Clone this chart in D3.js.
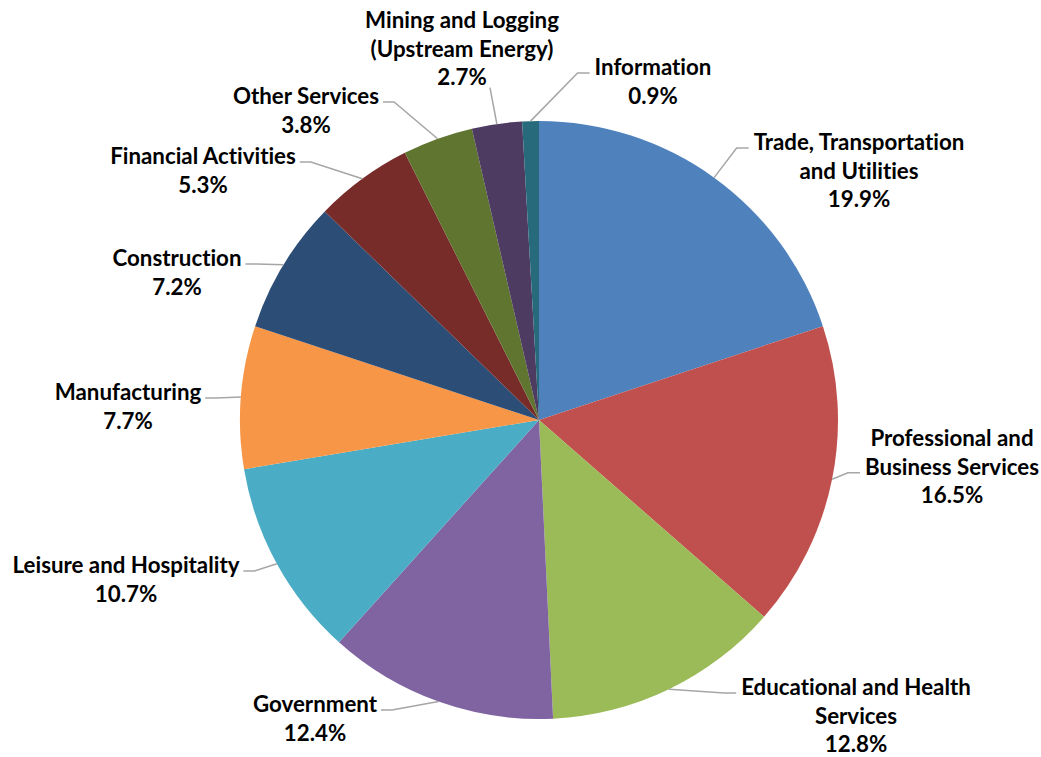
<!DOCTYPE html>
<html>
<head>
<meta charset="utf-8">
<script src="https://cdn.jsdelivr.net/npm/d3@7"></script>
<style>
  body { margin: 0; background: #fff; }
  svg text { font-family: Lato, "Open Sans", sans-serif; font-weight: bold; fill: #000; font-variant-ligatures: none; }
</style>
</head>
<body>
<div id="chart"></div>
<script>
const categories = [
  "Trade, Transportation and Utilities",
  "Professional and Business Services",
  "Educational and Health Services",
  "Government",
  "Leisure and Hospitality",
  "Manufacturing",
  "Construction",
  "Financial Activities",
  "Other Services",
  "Mining and Logging (Upstream Energy)",
  "Information"
];
const shares = [19.9, 16.5, 12.8, 12.4, 10.7, 7.7, 7.2, 5.3, 3.8, 2.7, 0.9];
const labelLines = [
  ["Trade, Transportation", "and Utilities"],
  ["Professional and", "Business Services"],
  ["Educational and Health", "Services"],
  ["Government"],
  ["Leisure and Hospitality"],
  ["Manufacturing"],
  ["Construction"],
  ["Financial Activities"],
  ["Other Services"],
  ["Mining and Logging", "(Upstream Energy)"],
  ["Information"]
];
const colors = ["#4F81BD", "#C0504D", "#9BBB59", "#8064A2", "#4BACC6", "#F79646",
                "#2C4D75", "#772C2A", "#5F7530", "#4D3B62", "#276A7C"];

// label placement (manual, like the dragged labels in the original)
// x = block centre, y = first line centre, side = where the leader enters, line = line it attaches to
const labelSpots = [
  { x: 859, y: 142, side: "R", line: 0 },
  { x: 952, y: 438, side: "R", line: 1 },
  { x: 856, y: 687, side: "R", line: 0 },
  { x: 315, y: 704, side: "L", line: 0 },
  { x: 126, y: 565, side: "L", line: 0 },
  { x: 128, y: 392, side: "L", line: 0 },
  { x: 177, y: 258, side: "L", line: 0 },
  { x: 203, y: 156, side: "L", line: 0 },
  { x: 306, y: 96,  side: "L", line: 0 },
  { x: 462, y: 20,  side: "B", line: 2 },
  { x: 653, y: 67,  side: "R", line: 0 }
];

const width = 1041, height = 757;
const cx = 539, cy = 420, radius = 299;
const lineH = 28.8;

const svg = d3.select("#chart").append("svg")
    .attr("width", width)
    .attr("height", height);

// fit the font so label widths match the Calibri original
const probe = svg.append("text").attr("font-size", 20).text("Leisure and Hospitality");
const fontSize = 20 * 227 / probe.node().getComputedTextLength();
probe.remove();

const pie = d3.pie().sort(null).value(d => d)(shares);
const arc = d3.arc().innerRadius(0).outerRadius(radius);

const g = svg.append("g").attr("transform", `translate(${cx},${cy})`);
g.selectAll("path")
    .data(pie)
    .enter().append("path")
        .attr("d", arc)
        .attr("fill", (d, i) => colors[i]);

const labels = svg.append("g");
pie.forEach(function(d, i){
    const spot = labelSpots[i];
    const lines = labelLines[i].concat([d3.format(".1f")(d.data) + "%"]);
    const t = labels.append("text")
        .attr("font-size", fontSize)
        .attr("text-anchor", "middle");
    lines.forEach(function(s, k){
        t.append("tspan")
            .attr("x", spot.x)
            .attr("y", spot.y + k * lineH)
            .attr("dy", "0.35em")
            .text(s);
    });
    let maxW = 0;
    t.selectAll("tspan").each(function(){ maxW = Math.max(maxW, this.getComputedTextLength()); });

    const mid = (d.startAngle + d.endAngle) / 2;
    const edge = [cx + radius * Math.sin(mid), cy - radius * Math.cos(mid)];
    const ay = spot.y + spot.line * lineH + 6;
    let pts;
    if (spot.side === "R") {
        const left = spot.x - maxW / 2;
        pts = [edge, [left - 17, ay], [left - 5, ay]];
    } else if (spot.side === "L") {
        const right = spot.x + maxW / 2;
        pts = [edge, [right + 15, ay], [right + 4, ay]];
    } else {
        pts = [edge, [spot.x + 28, spot.y + (lines.length - 1) * lineH + 10]];
    }
    labels.append("path")
        .attr("d", d3.line()(pts))
        .attr("fill", "none")
        .attr("stroke", "#A6A6A6")
        .attr("stroke-width", 1.5);
});
</script>
</body>
</html>
